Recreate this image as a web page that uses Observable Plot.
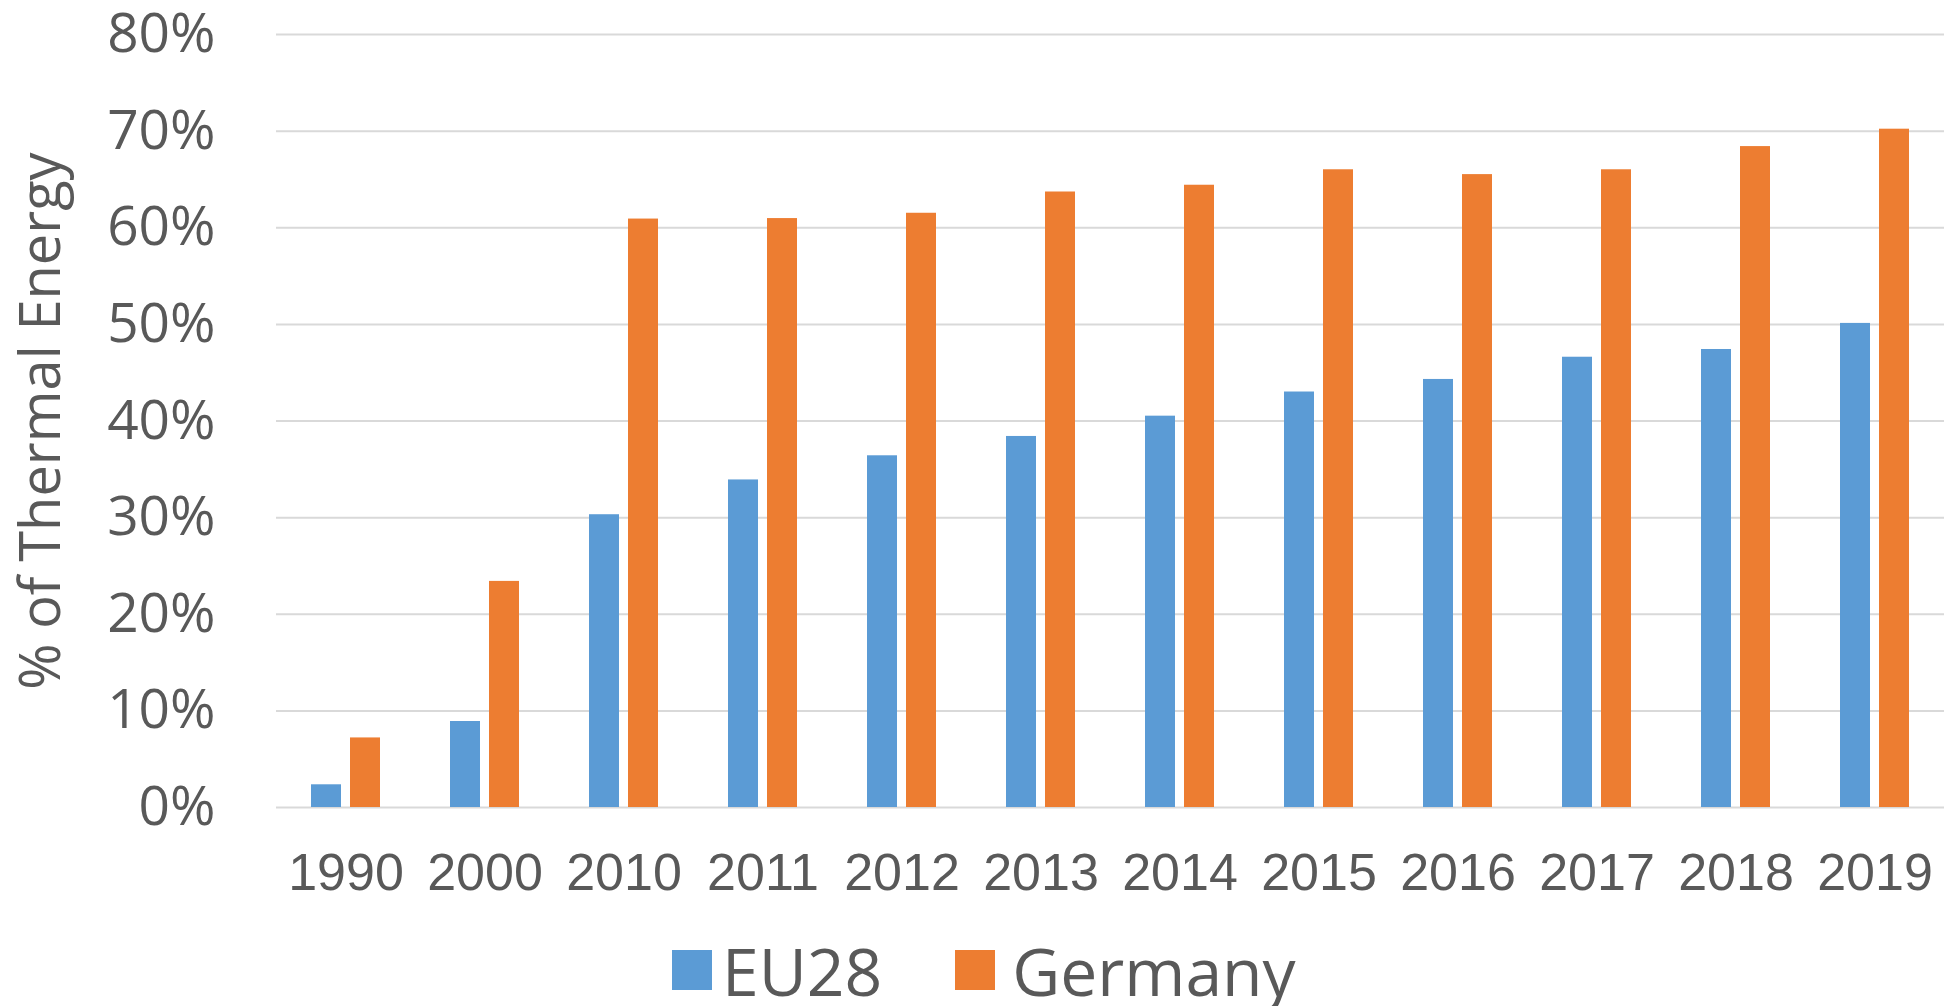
<!DOCTYPE html>
<html>
<head>
<meta charset="utf-8">
<script src="https://cdn.jsdelivr.net/npm/d3@7"></script>
<script src="https://cdn.jsdelivr.net/npm/@observablehq/plot@0.6"></script>
<style>
  html, body { margin: 0; padding: 0; background: #fff; overflow: hidden; }
  #chart svg { display: block; }
  #legend { display: flex; justify-content: flex-start; align-items: center; height: 100px; width: 1949px;
            box-sizing: border-box; padding-left: 672px;
            font-family: "Open Sans", sans-serif; font-size: 66px; color: #595959; line-height: 1; }
  .item { display: flex; align-items: center; }
  .sw { width: 40px; height: 40px; }
</style>
</head>
<body>
<div id="chart"></div>
<div id="legend"></div>
<script>
const years = ["1990","2000","2010","2011","2012","2013","2014","2015","2016","2017","2018","2019"];
const seriesNames = ["EU28", "Germany"];
const eu28 = [2.35, 8.9, 30.3, 33.9, 36.4, 38.4, 40.5, 43.0, 44.3, 46.6, 47.4, 50.1];
const germany = [7.2, 23.4, 60.9, 60.95, 61.5, 63.7, 64.4, 66.0, 65.5, 66.0, 68.4, 70.2];
const colors = ["#5B9BD5", "#ED7D31"];
const yTicks = [0, 10, 20, 30, 40, 50, 60, 70, 80];

const data = [];
years.forEach((yr, i) => {
  data.push({year: yr, series: seriesNames[0], value: eu28[i]});
  data.push({year: yr, series: seriesNames[1], value: germany[i]});
});

const textColor = "#595959";

const chart = Plot.plot({
  width: 1949,
  height: 920,
  marginLeft: 274,
  marginRight: 4,
  marginTop: 34,
  marginBottom: 113,
  style: {background: "#fff", color: textColor, fontFamily: "Open Sans, sans-serif"},
  fx: {domain: years, padding: 0, axis: null},
  x: {domain: seriesNames, paddingInner: 0.22, paddingOuter: 0.864, axis: null},
  y: {domain: [0, 80], axis: null},
  color: {domain: seriesNames, range: colors},
  marks: [
    Plot.gridY(yTicks, {stroke: "#d9d9d9", strokeOpacity: 1, strokeWidth: 2}),
    Plot.barY(data, {fx: "year", x: "series", y: "value", fill: "series"}),
    Plot.axisY({ticks: yTicks, tickSize: 0, tickPadding: 61, tickFormat: d => d + "%",
      fontSize: 55, fill: textColor, fontFamily: "Open Sans, sans-serif", label: null, facetAnchor: "left"}),
    Plot.axisY({ticks: [], tickSize: 0, label: "% of Thermal Energy", labelAnchor: "center", labelArrow: "none",
      labelOffset: 256, fontSize: 56, fill: textColor, fontFamily: "Open Sans, sans-serif", facetAnchor: "left"}),
    Plot.axisFx({anchor: "bottom", tickSize: 0, tickPadding: 46, fontSize: 52, fill: textColor,
      fontFamily: "Liberation Sans, Arial, sans-serif", label: null})
  ]
});
document.getElementById("chart").appendChild(chart);

const legend = document.getElementById("legend");
const swatchGap = [10, 17];
seriesNames.forEach((name, i) => {
  const item = document.createElement("div");
  item.className = "item";
  if (i > 0) item.style.marginLeft = "73px";
  const sw = document.createElement("div");
  sw.className = "sw";
  sw.style.background = colors[i];
  sw.style.marginRight = swatchGap[i] + "px";
  const label = document.createElement("span");
  label.textContent = name;
  item.appendChild(sw);
  item.appendChild(label);
  legend.appendChild(item);
});
</script>
</body>
</html>
